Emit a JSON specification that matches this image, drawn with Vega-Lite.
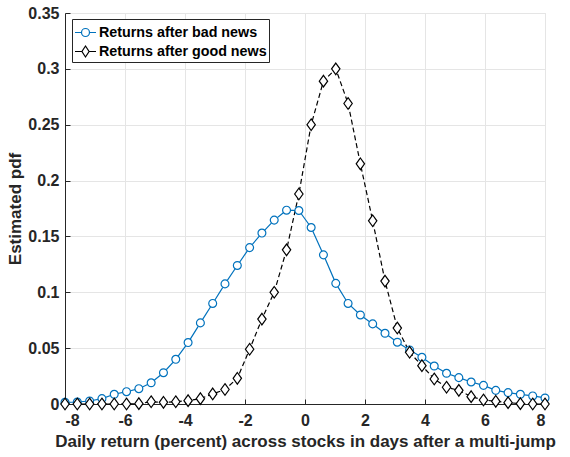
{
  "$schema": "https://vega.github.io/schema/vega-lite/v6.json",
  "width": 480,
  "height": 391,
  "autosize": {"type": "none"},
  "padding": {"left": 65, "top": 13, "right": 25, "bottom": 53},
  "background": "white",
  "config": {
    "font": "Liberation Sans",
    "view": {"stroke": "#e2e2e2", "strokeWidth": 1},
    "legend": {"symbolSize": 441},
    "axis": {
      "labelFont": "Liberation Sans",
      "labelFontWeight": "bold",
      "labelFontSize": 16,
      "labelColor": "#262626",
      "titleFont": "Liberation Sans",
      "titleFontWeight": "bold",
      "titleFontSize": 17,
      "titleColor": "#262626",
      "gridColor": "#e5e5e5",
      "gridWidth": 1,
      "domainColor": "#262626",
      "domainWidth": 1,
      "ticks": true,
      "tickSize": -5,
      "tickColor": "#262626"
    }
  },
  "data": {
    "values": [
      {"x": -8.000, "pdf": 0.0015, "series": "Returns after bad news"},
      {"x": -7.590, "pdf": 0.0018, "series": "Returns after bad news"},
      {"x": -7.179, "pdf": 0.0027, "series": "Returns after bad news"},
      {"x": -6.769, "pdf": 0.0048, "series": "Returns after bad news"},
      {"x": -6.359, "pdf": 0.0087, "series": "Returns after bad news"},
      {"x": -5.949, "pdf": 0.0110, "series": "Returns after bad news"},
      {"x": -5.538, "pdf": 0.0137, "series": "Returns after bad news"},
      {"x": -5.128, "pdf": 0.0190, "series": "Returns after bad news"},
      {"x": -4.718, "pdf": 0.0280, "series": "Returns after bad news"},
      {"x": -4.308, "pdf": 0.0400, "series": "Returns after bad news"},
      {"x": -3.897, "pdf": 0.0550, "series": "Returns after bad news"},
      {"x": -3.487, "pdf": 0.0726, "series": "Returns after bad news"},
      {"x": -3.077, "pdf": 0.0900, "series": "Returns after bad news"},
      {"x": -2.667, "pdf": 0.1075, "series": "Returns after bad news"},
      {"x": -2.256, "pdf": 0.1240, "series": "Returns after bad news"},
      {"x": -1.846, "pdf": 0.1400, "series": "Returns after bad news"},
      {"x": -1.436, "pdf": 0.1530, "series": "Returns after bad news"},
      {"x": -1.026, "pdf": 0.1646, "series": "Returns after bad news"},
      {"x": -0.615, "pdf": 0.1735, "series": "Returns after bad news"},
      {"x": -0.205, "pdf": 0.1732, "series": "Returns after bad news"},
      {"x": 0.205, "pdf": 0.1580, "series": "Returns after bad news"},
      {"x": 0.615, "pdf": 0.1335, "series": "Returns after bad news"},
      {"x": 1.026, "pdf": 0.1080, "series": "Returns after bad news"},
      {"x": 1.436, "pdf": 0.0900, "series": "Returns after bad news"},
      {"x": 1.846, "pdf": 0.0797, "series": "Returns after bad news"},
      {"x": 2.256, "pdf": 0.0717, "series": "Returns after bad news"},
      {"x": 2.667, "pdf": 0.0633, "series": "Returns after bad news"},
      {"x": 3.077, "pdf": 0.0553, "series": "Returns after bad news"},
      {"x": 3.487, "pdf": 0.0484, "series": "Returns after bad news"},
      {"x": 3.897, "pdf": 0.0418, "series": "Returns after bad news"},
      {"x": 4.308, "pdf": 0.0340, "series": "Returns after bad news"},
      {"x": 4.718, "pdf": 0.0275, "series": "Returns after bad news"},
      {"x": 5.128, "pdf": 0.0236, "series": "Returns after bad news"},
      {"x": 5.538, "pdf": 0.0197, "series": "Returns after bad news"},
      {"x": 5.949, "pdf": 0.0167, "series": "Returns after bad news"},
      {"x": 6.359, "pdf": 0.0122, "series": "Returns after bad news"},
      {"x": 6.769, "pdf": 0.0102, "series": "Returns after bad news"},
      {"x": 7.179, "pdf": 0.0087, "series": "Returns after bad news"},
      {"x": 7.590, "pdf": 0.0072, "series": "Returns after bad news"},
      {"x": 8.000, "pdf": 0.0054, "series": "Returns after bad news"},
      {"x": -8.000, "pdf": 0.0000, "series": "Returns after good news"},
      {"x": -7.590, "pdf": 0.0000, "series": "Returns after good news"},
      {"x": -7.179, "pdf": 0.0000, "series": "Returns after good news"},
      {"x": -6.769, "pdf": 0.0000, "series": "Returns after good news"},
      {"x": -6.359, "pdf": 0.0000, "series": "Returns after good news"},
      {"x": -5.949, "pdf": 0.0000, "series": "Returns after good news"},
      {"x": -5.538, "pdf": 0.0003, "series": "Returns after good news"},
      {"x": -5.128, "pdf": 0.0020, "series": "Returns after good news"},
      {"x": -4.718, "pdf": 0.0015, "series": "Returns after good news"},
      {"x": -4.308, "pdf": 0.0020, "series": "Returns after good news"},
      {"x": -3.897, "pdf": 0.0030, "series": "Returns after good news"},
      {"x": -3.487, "pdf": 0.0048, "series": "Returns after good news"},
      {"x": -3.077, "pdf": 0.0090, "series": "Returns after good news"},
      {"x": -2.667, "pdf": 0.0130, "series": "Returns after good news"},
      {"x": -2.256, "pdf": 0.0230, "series": "Returns after good news"},
      {"x": -1.846, "pdf": 0.0490, "series": "Returns after good news"},
      {"x": -1.436, "pdf": 0.0760, "series": "Returns after good news"},
      {"x": -1.026, "pdf": 0.1000, "series": "Returns after good news"},
      {"x": -0.615, "pdf": 0.1380, "series": "Returns after good news"},
      {"x": -0.205, "pdf": 0.1880, "series": "Returns after good news"},
      {"x": 0.205, "pdf": 0.2500, "series": "Returns after good news"},
      {"x": 0.615, "pdf": 0.2890, "series": "Returns after good news"},
      {"x": 1.026, "pdf": 0.3000, "series": "Returns after good news"},
      {"x": 1.436, "pdf": 0.2690, "series": "Returns after good news"},
      {"x": 1.846, "pdf": 0.2150, "series": "Returns after good news"},
      {"x": 2.256, "pdf": 0.1640, "series": "Returns after good news"},
      {"x": 2.667, "pdf": 0.1100, "series": "Returns after good news"},
      {"x": 3.077, "pdf": 0.0680, "series": "Returns after good news"},
      {"x": 3.487, "pdf": 0.0463, "series": "Returns after good news"},
      {"x": 3.897, "pdf": 0.0343, "series": "Returns after good news"},
      {"x": 4.308, "pdf": 0.0224, "series": "Returns after good news"},
      {"x": 4.718, "pdf": 0.0150, "series": "Returns after good news"},
      {"x": 5.128, "pdf": 0.0122, "series": "Returns after good news"},
      {"x": 5.538, "pdf": 0.0066, "series": "Returns after good news"},
      {"x": 5.949, "pdf": 0.0036, "series": "Returns after good news"},
      {"x": 6.359, "pdf": 0.0024, "series": "Returns after good news"},
      {"x": 6.769, "pdf": 0.0012, "series": "Returns after good news"},
      {"x": 7.179, "pdf": 0.0003, "series": "Returns after good news"},
      {"x": 7.590, "pdf": 0.0000, "series": "Returns after good news"},
      {"x": 8.000, "pdf": 0.0000, "series": "Returns after good news"}
    ]
  },
  "encoding": {
    "x": {
      "field": "x",
      "type": "quantitative",
      "scale": {"domain": [-8, 8], "nice": false, "zero": false},
      "axis": {
        "title": "Daily return (percent) across stocks in days after a multi-jump",
        "values": [-8, -6, -4, -2, 0, 2, 4, 6, 8],
        "labelExpr": "datum.value < 0 ? '-' + abs(datum.value) : '' + datum.value",
        "labelPadding": 13,
        "titlePadding": 5
      }
    },
    "y": {
      "field": "pdf",
      "type": "quantitative",
      "scale": {"domain": [0, 0.35], "nice": false},
      "axis": {
        "title": "Estimated pdf",
        "values": [0, 0.05, 0.1, 0.15, 0.2, 0.25, 0.3, 0.35],
        "format": ".2~f",
        "labelPadding": 11,
        "titlePadding": 3
      }
    }
  },
  "layer": [
    {
      "transform": [{"filter": "datum.series === 'Returns after bad news'"}],
      "mark": {"type": "line", "strokeWidth": 1.2, "clip": false},
      "encoding": {
        "stroke": {
          "field": "series",
          "type": "nominal",
          "scale": {"domain": ["Returns after bad news", "Returns after good news"], "range": ["#0072BD", "#000000"]},
          "legend": {
            "title": null,
            "orient": "none",
            "legendX": 7,
            "legendY": 6,
            "padding": 2,
            "rowPadding": -6,
            "strokeColor": "#262626",
            "fillColor": "white",
            "symbolSize": 441,
            "symbolStrokeWidth": 1.2,
            "labelFont": "Liberation Sans",
            "labelFontWeight": "bold",
            "labelFontSize": 14.3,
            "labelColor": "#000000",
            "labelOffset": 2,
            "labelLimit": 400,
            "encode": {
              "symbols": {
                "update": {
                  "shape": {"signal": "datum.value === 'Returns after bad news' ? 'M-1,0L-0.38,0M0.38,0L1,0M-0.38,0A0.38,0.38,0,1,1,0.38,0A0.38,0.38,0,1,1,-0.38,0' : 'M-1,0L-0.34,0M0.34,0L1,0M0,-0.52L0.34,0L0,0.52L-0.34,0Z'"},
                  "stroke": {"signal": "datum.value === 'Returns after bad news' ? '#0072BD' : '#000000'"},
                  "fill": {"value": "transparent"},
                  "size": {"value": 441},
                  "opacity": {"value": 1},
                  "strokeWidth": {"value": 1.2}
                }
              }
            }
          }
        }
      }
    },
    {
      "transform": [{"filter": "datum.series === 'Returns after good news'"}],
      "mark": {"type": "line", "strokeWidth": 1.2, "strokeDash": [5, 3], "clip": false},
      "encoding": {
        "stroke": {
          "field": "series",
          "type": "nominal",
          "legend": null
        }
      }
    },
    {
      "transform": [{"filter": "datum.series === 'Returns after bad news'"}],
      "mark": {"type": "point", "shape": "circle", "size": 62, "filled": false, "fill": "white", "fillOpacity": 1, "opacity": 1, "stroke": "#0072BD", "strokeWidth": 1.2, "clip": false}
    },
    {
      "transform": [{"filter": "datum.series === 'Returns after good news'"}],
      "mark": {"type": "point", "shape": "M0,-1L0.72,0L0,1L-0.72,0Z", "size": 135, "filled": false, "fill": "white", "fillOpacity": 1, "opacity": 1, "stroke": "#000000", "strokeWidth": 1.2, "clip": false}
    }
  ]
}
